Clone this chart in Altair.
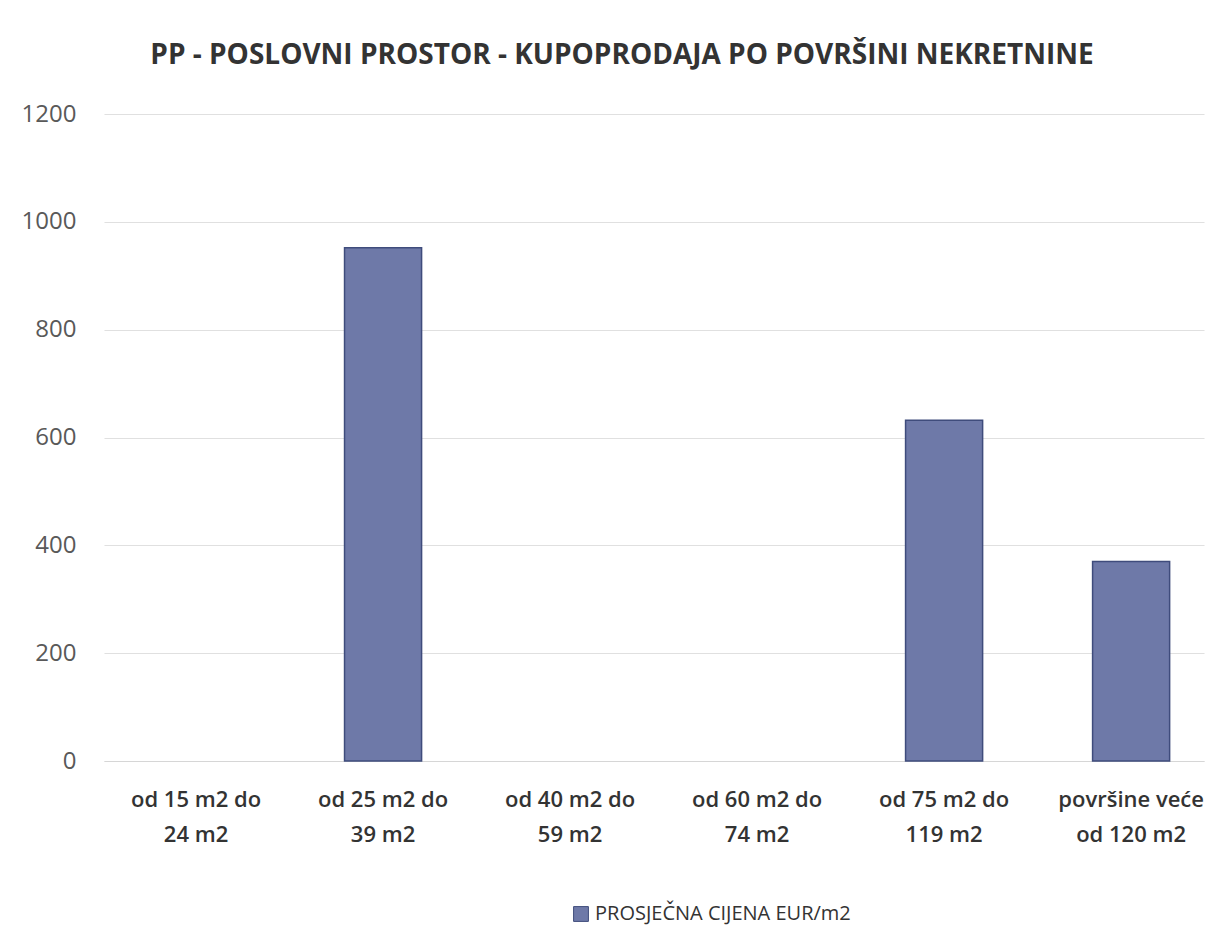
import altair as alt
import pandas as pd

categories = [
    "od 15 m2 do\n24 m2",
    "od 25 m2 do\n39 m2",
    "od 40 m2 do\n59 m2",
    "od 60 m2 do\n74 m2",
    "od 75 m2 do\n119 m2",
    "površine veće\nod 120 m2",
]
values = [0, 952, 0, 0, 632, 370]
series_name = "PROSJEČNA CIJENA EUR/m2"
y_ticks = [0, 200, 400, 600, 800, 1000, 1200]

df = pd.DataFrame({"cat": categories, "val": values, "series": [series_name] * len(categories)})

FONT = "Open Sans"

chart = alt.Chart(df).transform_filter(
    alt.datum.val > 0
).mark_bar(
    stroke="#3f4c7c", strokeWidth=1.5
).encode(
    x=alt.X("cat:N", title=None,
            scale=alt.Scale(domain=categories, paddingInner=0.588, paddingOuter=0.235, align=0.609),
            axis=alt.Axis(labelAngle=0, labelExpr="split(datum.value, '\\n')",
                          labelFontSize=22, labelFontWeight=600, labelColor="#333333",
                          labelPadding=28, labelLineHeight=35, ticks=False, labelLimit=0,
                          labelOverlap=False, labelBound=False,
                          domain=True, domainColor="#d6d6d6", grid=False)),
    y=alt.Y("val:Q", title=None,
            scale=alt.Scale(domain=[0, 1200], nice=False),
            axis=alt.Axis(values=y_ticks, format="d", labelFontSize=24, labelColor="#595959",
                          labelPadding=28, ticks=False, domain=False,
                          gridColor="#e0e0e0", gridWidth=1.2)),
    color=alt.Color("series:N", title=None,
                    scale=alt.Scale(range=["#6e79a8"]),
                    legend=alt.Legend(orient="none", legendX=467, legendY=790,
                                      symbolType="square", symbolSize=220,
                                      symbolStrokeColor="#3f4c7c", symbolStrokeWidth=1,
                                      labelFontSize=20, labelColor="#333333", labelFont=FONT,
                                      labelLimit=0, labelOffset=4)),
).properties(
    width=1100,
    height=647,
    title=alt.TitleParams(
        text="PP - POSLOVNI PROSTOR - KUPOPRODAJA PO POVRŠINI NEKRETNINE",
        fontSize=28, fontWeight="bold", color="#333333", font=FONT,
        anchor="middle", offset=32, dx=-32,
    ),
    autosize=alt.AutoSizeParams(type="none"),
    padding={"left": 96, "top": 106, "right": 7, "bottom": 172},
).configure_view(stroke=None).configure_axis(labelFont=FONT)

chart.save("out.html", embed_options={"renderer": "svg", "actions": False})
